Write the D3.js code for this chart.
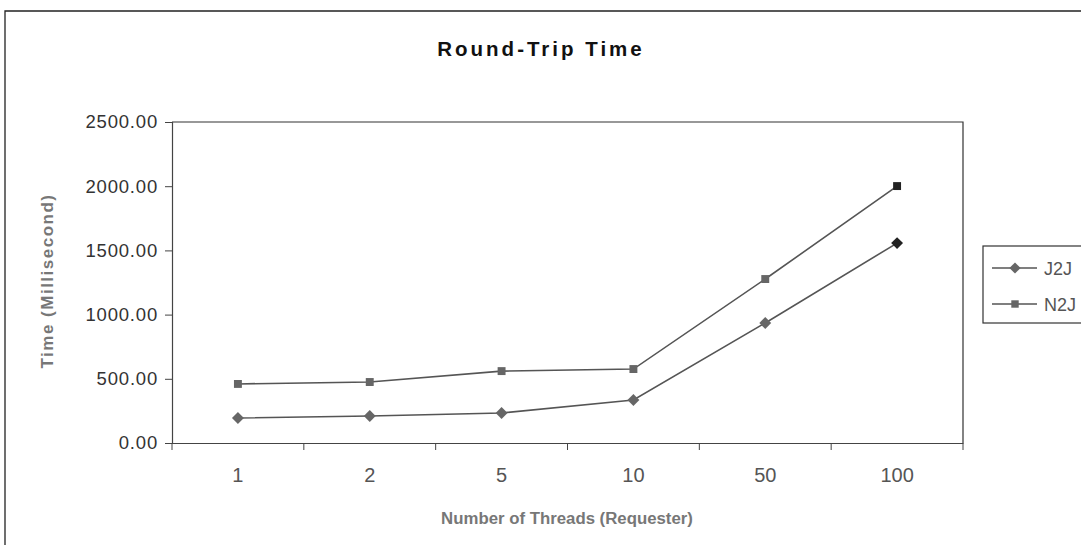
<!DOCTYPE html>
<html><head><meta charset="utf-8">
<script src="https://cdn.jsdelivr.net/npm/d3@7/dist/d3.min.js"></script>
<style>body{margin:0;background:#fff}svg{display:block}text{font-family:"Liberation Sans",Arial,sans-serif}</style>
</head><body><svg id="c" width="1081" height="554"></svg>
<script>
const categories = ["1","2","5","10","50","100"];
const seriesNames = ["J2J","N2J"];
const j2j = [195, 210, 234, 335, 935, 1557];
const n2j = [460, 475, 560, 576, 1277, 2001];
const yTicks = [0, 500, 1000, 1500, 2000, 2500];

const svg = d3.select("#c");
const m = {l:172, t:122, r:963, b:443};
const x = d3.scaleBand().domain(categories).range([m.l, m.r]);
const y = d3.scaleLinear().domain([0, 2500]).range([m.b, m.t]);

// outer frame
svg.append("path").attr("d","M5,545 L5,11 L1081,11").attr("fill","none").attr("stroke","#222").attr("stroke-width",1.3);

// title
svg.append("text").attr("x",541).attr("y",56).attr("text-anchor","middle")
  .attr("font-size",20.5).attr("font-weight","bold").attr("letter-spacing",3).attr("fill","#111").text("Round-Trip Time");

// plot frame top/right
svg.append("path").attr("d",`M${m.l},${m.t} L${m.r},${m.t} L${m.r},${m.b}`).attr("fill","none").attr("stroke","#333").attr("stroke-width",1.2);

// y axis
const ya = svg.append("g").attr("transform",`translate(${m.l},0)`)
  .call(d3.axisLeft(y).tickValues(yTicks).tickFormat(d3.format(".2f")).tickSize(7).tickPadding(7));
ya.select(".domain").attr("stroke","#444").attr("stroke-width",1.2);
ya.selectAll(".tick line").attr("stroke","#444");
ya.selectAll("text").attr("font-size",18.5).attr("letter-spacing",0.8).attr("fill","#333").attr("font-family","'Liberation Sans',Arial,sans-serif");

// x axis
const xa = svg.append("g").attr("transform",`translate(0,${m.b})`)
  .call(d3.axisBottom(x).tickSize(0).tickPadding(25));
xa.select(".domain").attr("stroke","#444").attr("stroke-width",1.2);
xa.selectAll("text").attr("font-size",20).attr("fill","#555").attr("font-family","'Liberation Sans',Arial,sans-serif");
// ticks at band boundaries
const bounds = categories.map(c => x(c)).concat([m.r]);
svg.append("g").selectAll("line").data(bounds).join("line")
  .attr("x1",d=>d).attr("x2",d=>d).attr("y1",m.b).attr("y2",m.b+7).attr("stroke","#444");

// axis titles
svg.append("text").attr("transform","translate(53,281) rotate(-90)").attr("text-anchor","middle")
  .attr("font-size",17).attr("font-weight","bold").attr("letter-spacing",1.5).attr("fill","#777").text("Time (Millisecond)");
svg.append("text").attr("x",567).attr("y",524).attr("text-anchor","middle")
  .attr("font-size",16.8).attr("font-weight","bold").attr("fill","#777").text("Number of Threads (Requester)");

const cx = c => x(c) + x.bandwidth()/2;
const line = d3.line().x((d,i)=>cx(categories[i])).y(d=>y(d));
const series = [{name:"J2J", vals:j2j, sym:d3.symbolDiamond2},{name:"N2J", vals:n2j, sym:d3.symbolSquare2}];

series.forEach(s => {
  svg.append("path").datum(s.vals).attr("d",line).attr("fill","none").attr("stroke","#555").attr("stroke-width",1.6);
  svg.append("g").selectAll("path").data(s.vals).join("path")
    .attr("transform",(d,i)=>`translate(${cx(categories[i])},${y(d)})`)
    .attr("d",d3.symbol().type(s.sym).size(s.name==="J2J"?90:80))
    .attr("fill",(d,i)=> i===5 ? "#222" : "#666").attr("stroke","none");
});

// legend
svg.append("rect").attr("x",983).attr("y",246).attr("width",110).attr("height",77)
  .attr("fill","#fff").attr("stroke","#333").attr("stroke-width",1.2);
series.forEach((s,i) => {
  const ly = 268 + i*36;
  svg.append("line").attr("x1",992).attr("x2",1037).attr("y1",ly).attr("y2",ly).attr("stroke","#555").attr("stroke-width",1.6);
  svg.append("path").attr("transform",`translate(1015,${ly})`).attr("d",d3.symbol().type(s.sym).size(s.name==="J2J"?80:70)).attr("fill","#666");
  svg.append("text").attr("x",1044).attr("y",ly+7).attr("font-size",18).attr("fill","#555").text(s.name);
});
</script></body></html>
